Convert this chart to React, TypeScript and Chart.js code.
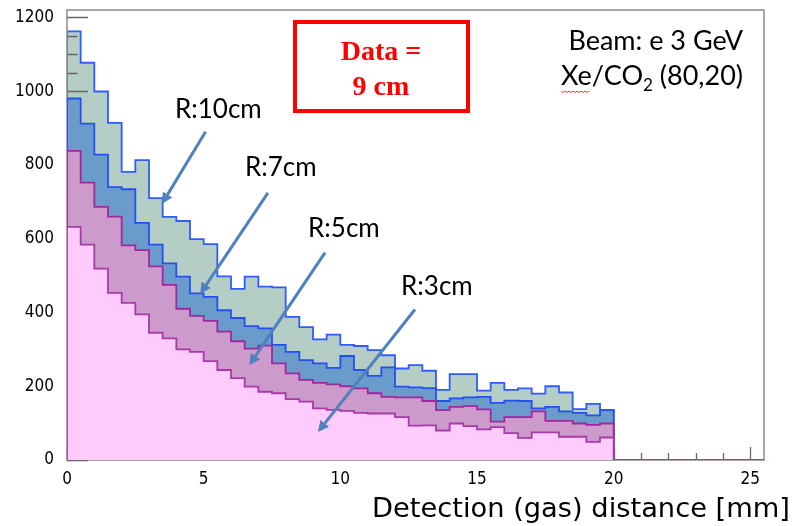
import React, { useEffect, useRef } from "react";
import { Chart, registerables } from "chart.js";

Chart.register(...registerables);

// Lower bin edges (mm), bin width 0.5 mm
const binEdges = [
  0, 0.5, 1, 1.5, 2, 2.5, 3, 3.5, 4, 4.5, 5, 5.5, 6, 6.5, 7, 7.5, 8, 8.5, 9, 9.5,
  10, 10.5, 11, 11.5, 12, 12.5, 13, 13.5, 14, 14.5, 15, 15.5, 16, 16.5, 17, 17.5, 18, 18.5, 19, 19.5,
];
const histEnd = 20;
const axisMaxX = 25.5;
const axisMaxY = 1220;

const r10cm = [1162, 1077, 999, 914, 781, 813, 710, 659, 648, 599, 585, 498, 464, 497, 470, 468, 388, 360, 327, 340,
  312, 309, 298, 284, 248, 257, 242, 190, 233, 233, 188, 209, 190, 194, 180, 200, 183, 138, 152, 135];
const r7cm = [980, 912, 828, 740, 734, 643, 584, 533, 497, 452, 442, 406, 385, 363, 357, 312, 293, 271, 262, 250,
  282, 244, 228, 251, 199, 197, 195, 160, 167, 170, 171, 155, 161, 160, 140, 144, 132, 128, 121, 135];
const r5cm = [838, 752, 686, 660, 582, 569, 525, 475, 410, 391, 377, 348, 322, 302, 310, 262, 235, 217, 209, 205,
  200, 194, 181, 171, 170, 170, 160, 135, 144, 146, 137, 104, 116, 116, 132, 106, 106, 99, 95, 99];
const r3cm = [632, 584, 519, 453, 426, 395, 345, 330, 300, 293, 268, 244, 222, 199, 185, 181, 165, 158, 140, 136,
  133, 128, 126, 126, 116, 93, 94, 80, 99, 92, 83, 89, 73, 60, 75, 75, 63, 63, 49, 61];

const xTickValues = [0, 5, 10, 15, 20, 25];
const yTickValues = [0, 200, 400, 600, 800, 1000, 1200];
const xMinorStep = 1;
const yMinorStep = 50;

// Annotation labels and arrows, in data coordinates
const arrowLabels = ["R:10cm", "R:7cm", "R:5cm", "R:3cm"];
const labelAnchors = [[3.95, 926], [6.51, 770], [8.82, 604], [12.22, 447]];
const arrowStarts = [[5.07, 890], [7.35, 724], [9.44, 562], [12.73, 408]];
const arrowTips = [[3.47, 694], [4.87, 450], [6.67, 257], [9.18, 76]];

const tickFont = "'Liberation Sans Narrow', 'DejaVu Sans Condensed', 'Liberation Sans', Arial, sans-serif";
const noteFont = "Lato, 'Open Sans', sans-serif";

function histPoints(values: number[]) {
  const pts: { x: number; y: number }[] = [{ x: binEdges[0], y: 0 }];
  values.forEach((v, i) => pts.push({ x: binEdges[i], y: v }));
  pts.push({ x: histEnd, y: 0 });
  pts.push({ x: axisMaxX, y: 0 });
  return pts;
}

const overlayPlugin = {
  id: "overlay",
  afterDatasetDraw(chart: any, args: any) {
    if (args.index !== 0) return;
    const { ctx, chartArea: a } = chart;
    const xs = chart.scales.x;
    const ys = chart.scales.y;
    ctx.save();
    ctx.strokeStyle = "#8c8c8c";
    ctx.lineWidth = 1.5;
    ctx.strokeRect(a.left, a.top, a.right - a.left, a.bottom - a.top);
    ctx.strokeStyle = "#666";
    ctx.lineWidth = 1.3;
    ctx.beginPath();
    for (let v = 0; v <= 1200; v += yMinorStep) {
      const y = Math.round(ys.getPixelForValue(v)) + 0.5;
      const len = yTickValues.includes(v) ? 21 : 10.5;
      ctx.moveTo(a.left, y);
      ctx.lineTo(a.left + len, y);
    }
    for (let v = 0; v <= 25; v += xMinorStep) {
      const x = Math.round(xs.getPixelForValue(v)) + 0.5;
      const len = xTickValues.includes(v) ? 13 : 7;
      ctx.moveTo(x, a.bottom);
      ctx.lineTo(x, a.bottom - len);
    }
    ctx.stroke();
    ctx.restore();
  },
  afterDraw(chart: any) {
    const { ctx } = chart;
    const xs = chart.scales.x;
    const ys = chart.scales.y;
    ctx.save();

    // arrows
    ctx.strokeStyle = "#4f81bd";
    ctx.fillStyle = "#4f81bd";
    ctx.lineWidth = 3;
    for (let i = 0; i < arrowStarts.length; i++) {
      const x0 = xs.getPixelForValue(arrowStarts[i][0]);
      const y0 = ys.getPixelForValue(arrowStarts[i][1]);
      const x1 = xs.getPixelForValue(arrowTips[i][0]);
      const y1 = ys.getPixelForValue(arrowTips[i][1]);
      const ang = Math.atan2(y1 - y0, x1 - x0);
      const hl = 11, hw = 5.5;
      const bx = x1 - hl * Math.cos(ang);
      const by = y1 - hl * Math.sin(ang);
      ctx.beginPath();
      ctx.moveTo(x0, y0);
      ctx.lineTo(bx, by);
      ctx.stroke();
      ctx.beginPath();
      ctx.moveTo(x1, y1);
      ctx.lineTo(bx + hw * Math.sin(ang), by - hw * Math.cos(ang));
      ctx.lineTo(bx - hw * Math.sin(ang), by + hw * Math.cos(ang));
      ctx.closePath();
      ctx.fill();
    }

    // arrow labels
    ctx.fillStyle = "#000";
    ctx.font = `26px ${noteFont}`;
    ctx.textAlign = "left";
    ctx.textBaseline = "alphabetic";
    for (let i = 0; i < arrowLabels.length; i++) {
      ctx.fillText(arrowLabels[i], xs.getPixelForValue(labelAnchors[i][0]), ys.getPixelForValue(labelAnchors[i][1]));
    }

    // red box
    ctx.strokeStyle = "#ff0000";
    ctx.lineWidth = 4;
    ctx.strokeRect(295, 22, 173, 89);
    ctx.fillStyle = "#ff0000";
    ctx.font = "bold 28px 'Liberation Serif', 'Times New Roman', serif";
    ctx.textAlign = "center";
    ctx.fillText("Data =", 381, 60);
    ctx.fillText("9 cm", 381, 95);

    // beam text
    ctx.fillStyle = "#000";
    ctx.font = `27px ${noteFont}`;
    ctx.textAlign = "right";
    ctx.fillText("Beam: e 3 GeV", 743, 50);
    const p1 = "Xe/CO", p2 = "2", p3 = " (80,20)";
    ctx.textAlign = "left";
    const w1 = ctx.measureText(p1).width;
    const w3 = ctx.measureText(p3).width;
    ctx.font = `17px ${noteFont}`;
    const w2 = ctx.measureText(p2).width;
    const sx = 743 - (w1 + w2 + w3);
    ctx.font = `27px ${noteFont}`;
    ctx.fillText(p1, sx, 85);
    ctx.font = `17px ${noteFont}`;
    ctx.fillText(p2, sx + w1, 91);
    ctx.font = `27px ${noteFont}`;
    ctx.fillText(p3, sx + w1 + w2, 85);
    // spell-check squiggle under "Xe"
    ctx.strokeStyle = "#e03030";
    ctx.lineWidth = 1;
    ctx.beginPath();
    for (let k = 0; k <= 14; k++) {
      const px = sx + k * 2;
      const py = 91 + (k % 2 === 0 ? 0 : 1.5);
      if (k === 0) ctx.moveTo(px, py); else ctx.lineTo(px, py);
    }
    ctx.stroke();

    // x-axis title
    ctx.fillStyle = "#000";
    ctx.font = "27px 'DejaVu Sans', sans-serif";
    const title = "Detection (gas) distance [mm]";
    const tw = ctx.measureText(title).width;
    const target = 418;
    ctx.translate(790, 517);
    ctx.scale(target / tw, 1);
    ctx.textAlign = "right";
    ctx.fillText(title, 0, 0);
    ctx.restore();
  },
};

export default function App() {
  const ref = useRef<HTMLCanvasElement>(null);
  useEffect(() => {
    if (!ref.current) return;
    const lineW = 1.8;
    const chart = new Chart(ref.current, {
      type: "line",
      data: {
        datasets: [
          { label: "R:10cm", data: histPoints(r10cm), borderColor: "#2e5cff", backgroundColor: "#b4cec6", fill: "origin", order: 4 },
          { label: "R:7cm", data: histPoints(r7cm), borderColor: "#2450f0", backgroundColor: "#6a9bca", fill: "origin", order: 3 },
          { label: "R:5cm", data: histPoints(r5cm), borderColor: "#a0289e", backgroundColor: "#cc9acb", fill: "origin", order: 2 },
          { label: "R:3cm", data: histPoints(r3cm), borderColor: "#a83aa8", backgroundColor: "#fecbfd", fill: "origin", order: 1 },
        ].map((d) => ({ ...d, stepped: "before" as const, pointRadius: 0, borderWidth: lineW, tension: 0 })),
      },
      options: {
        animation: false,
        responsive: false,
        devicePixelRatio: 1,
        events: [],
        layout: { padding: { left: 0, top: 10, right: 32, bottom: 0 } },
        plugins: { legend: { display: false }, tooltip: { enabled: false } },
        scales: {
          x: {
            type: "linear",
            min: 0,
            max: axisMaxX,
            grid: { display: false },
            border: { display: false },
            afterBuildTicks: (s: any) => { s.ticks = xTickValues.map((v) => ({ value: v })); },
            ticks: {
              autoSkip: false,
              maxRotation: 0,
              color: "#000",
              padding: 1,
              callback: (v: any) => String(v),
              font: { family: tickFont, size: 17 },
            },
            afterFit: (s: any) => { s.height = 66; s.paddingLeft = 0; s.paddingRight = 0; },
          },
          y: {
            type: "linear",
            min: 0,
            max: axisMaxY,
            grid: { display: false },
            border: { display: false },
            afterBuildTicks: (s: any) => { s.ticks = yTickValues.map((v) => ({ value: v })); },
            ticks: {
              autoSkip: false,
              color: "#000",
              padding: 5,
              callback: (v: any) => String(v),
              font: { family: tickFont, size: 17 },
            },
            afterFit: (s: any) => { s.width = 67; s.paddingTop = 0; s.paddingBottom = 0; },
          },
        },
      },
      plugins: [overlayPlugin],
    });
    return () => chart.destroy();
  }, []);
  return (
    <div style={{ position: "absolute", left: 0, top: 0, width: 796, height: 526, background: "#fff" }}>
      <canvas ref={ref} width={796} height={526} style={{ display: "block" }} />
    </div>
  );
}
